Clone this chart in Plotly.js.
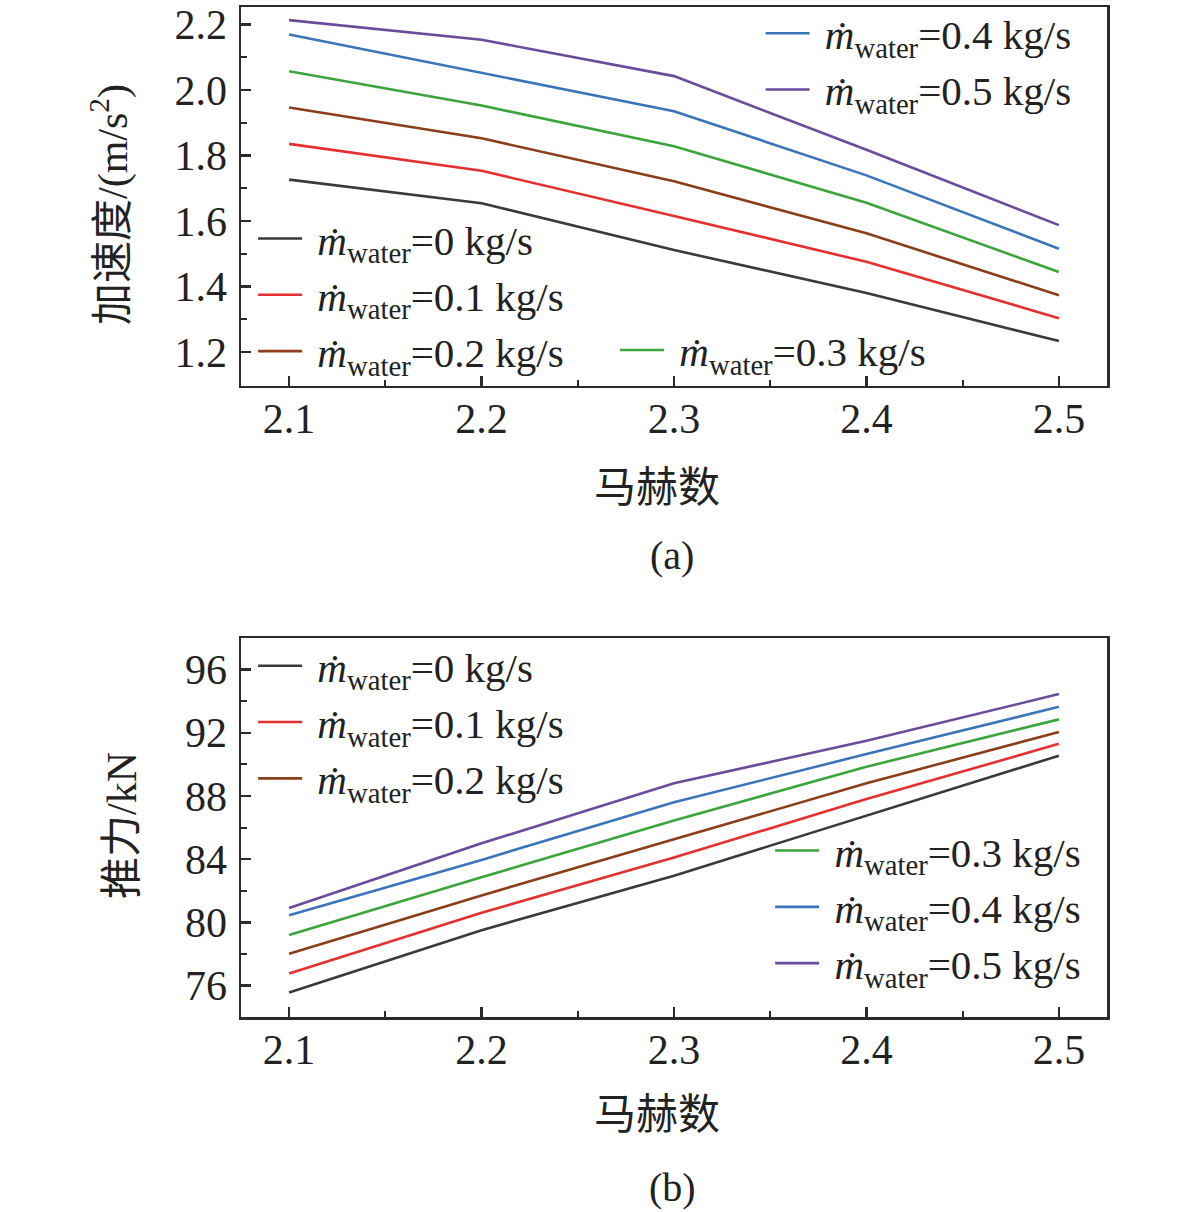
<!DOCTYPE html>
<html>
<head>
<meta charset="utf-8">
<script src="https://cdn.plot.ly/plotly-3.0.1.min.js"></script>
<style>
  html, body { margin: 0; padding: 0; background: #fff; }
  #chart { width: 1181px; height: 1212px; }
</style>
</head>
<body>
<div id="chart"></div>
<script>
// Mach numbers (x)
var mach = [2.1, 2.2, 2.3, 2.4, 2.5];

// (a) acceleration, m/s^2
var accel0 = [1.727, 1.655, 1.512, 1.381, 1.234];
var accel1 = [1.836, 1.754, 1.616, 1.476, 1.304];
var accel2 = [1.947, 1.853, 1.722, 1.563, 1.374];
var accel3 = [2.058, 1.953, 1.829, 1.656, 1.445];
var accel4 = [2.170, 2.052, 1.936, 1.740, 1.516];
var accel5 = [2.214, 2.154, 2.043, 1.818, 1.588];

// (b) thrust, kN
var thrust0 = [75.55, 79.50, 82.95, 86.75, 90.55];
var thrust1 = [76.75, 80.60, 84.10, 87.80, 91.30];
var thrust2 = [78.00, 81.70, 85.25, 88.80, 92.05];
var thrust3 = [79.20, 82.85, 86.45, 89.85, 92.85];
var thrust4 = [80.45, 83.95, 87.60, 90.65, 93.65];
var thrust5 = [80.90, 85.00, 88.80, 91.50, 94.45];

var flows = ['0', '0.1', '0.2', '0.3', '0.4', '0.5'];
var colors = ['#3a3a3a', '#e5302f', '#8b3e17', '#3ba53b', '#3a75bc', '#6b4b9b'];

var serif = 'Liberation Serif, Times New Roman, serif';
var cjk = 'Liberation Serif, Noto Sans CJK SC, serif';
var ink = '#2b2b2b';

function label(f) {
  return '\u00a0<i>\u1E41</i><sub>water</sub>=' + f + ' kg/s';
}

function line(y, i, xa, ya, leg) {
  return {
    x: mach,
    y: y,
    xaxis: xa,
    yaxis: ya,
    name: label(flows[i]),
    legend: leg,
    type: 'scatter',
    mode: 'lines',
    line: { color: colors[i], width: 2.6 }
  };
}

var accel = [accel0, accel1, accel2, accel3, accel4, accel5];
var thrust = [thrust0, thrust1, thrust2, thrust3, thrust4, thrust5];
var topLeg = ['legend', 'legend', 'legend', 'legend2', 'legend3', 'legend3'];
var botLeg = ['legend4', 'legend4', 'legend4', 'legend5', 'legend5', 'legend5'];

var data = [];
for (var i = 0; i < 6; i++) data.push(line(accel[i], i, 'x', 'y', topLeg[i]));
for (var j = 0; j < 6; j++) data.push(line(thrust[j], j, 'x2', 'y2', botLeg[j]));

function axis(extra) {
  var a = {
    automargin: false,
    showgrid: false,
    zeroline: false,
    showline: true,
    mirror: true,
    linecolor: ink,
    linewidth: 2.5,
    ticks: 'inside',
    ticklen: 10,
    tickwidth: 2.5,
    tickcolor: ink,
    tickfont: { family: serif, size: 42, color: '#222' }
  };
  for (var k in extra) a[k] = extra[k];
  return a;
}

function minorTicks(d) {
  return { ticks: 'inside', ticklen: 6, tickwidth: 2, tickcolor: ink, dtick: d };
}

function legendBox(x, y) {
  return {
    x: x, y: y,
    xanchor: 'left', yanchor: 'middle',
    bgcolor: 'rgba(0,0,0,0)',
    borderwidth: 0,
    itemwidth: 44,
    font: { family: serif, size: 41, color: '#222' },
    tracegroupgap: 0
  };
}

var layout = {
  width: 1181,
  height: 1212,
  margin: { l: 241, r: 74, t: 7, b: 195, autoexpand: false },
  paper_bgcolor: '#fff',
  plot_bgcolor: '#fff',
  showlegend: true,
  xaxis: axis({ domain: [0, 1], anchor: 'y', range: [2.075, 2.525], tick0: 2.1, dtick: 0.1,
                tickformat: '.1f', ticklabelstandoff: -6, minor: minorTicks(0.05) }),
  yaxis: axis({ domain: [0.6248, 1], anchor: 'x', range: [1.097, 2.254], tick0: 1.2, dtick: 0.2,
                tickformat: '.1f', ticklabelstandoff: 3, minor: minorTicks(0.1) }),
  xaxis2: axis({ domain: [0, 1], anchor: 'y2', range: [2.075, 2.525], tick0: 2.1, dtick: 0.1,
                 tickformat: '.1f', ticklabelstandoff: -6, minor: minorTicks(0.05) }),
  yaxis2: axis({ domain: [0, 0.3752], anchor: 'x2', range: [74, 98], tick0: 76, dtick: 4,
                 ticklabelstandoff: 3, minor: minorTicks(2) }),
  legend: legendBox(0.014, 0.715),
  legend2: legendBox(0.432, 0.660),
  legend3: legendBox(0.600, 0.946),
  legend4: legendBox(0.014, 0.292),
  legend5: legendBox(0.611, 0.109),
  annotations: [
    { text: '加速度/(m/s<sup>2</sup>)', xref: 'paper', yref: 'paper', x: -0.1513, y: (1017 - 204) / 1010,
      textangle: -90, showarrow: false, xanchor: 'center', yanchor: 'middle',
      font: { family: cjk, size: 42, color: '#222' } },
    { text: '马赫数', xref: 'paper', yref: 'paper', x: (657 - 241) / 866, y: (1017 - 488) / 1010,
      showarrow: false, xanchor: 'center', yanchor: 'middle', font: { family: cjk, size: 42, color: '#222' } },
    { text: '(a)', xref: 'paper', yref: 'paper', x: (672 - 241) / 866, y: (1017 - 555) / 1010,
      showarrow: false, xanchor: 'center', yanchor: 'middle', font: { family: serif, size: 40, color: '#222' } },
    { text: '推力/kN', xref: 'paper', yref: 'paper', x: (122 - 241) / 866, y: (1017 - 826) / 1010,
      textangle: -90, showarrow: false, xanchor: 'center', yanchor: 'middle',
      font: { family: cjk, size: 42, color: '#222' } },
    { text: '马赫数', xref: 'paper', yref: 'paper', x: (657 - 241) / 866, y: (1017 - 1115) / 1010,
      showarrow: false, xanchor: 'center', yanchor: 'middle', font: { family: cjk, size: 42, color: '#222' } },
    { text: '(b)', xref: 'paper', yref: 'paper', x: (672 - 241) / 866, y: (1017 - 1187) / 1010,
      showarrow: false, xanchor: 'center', yanchor: 'middle', font: { family: serif, size: 40, color: '#222' } }
  ]
};

Plotly.newPlot('chart', data, layout, { staticPlot: true });
</script>
</body>
</html>
